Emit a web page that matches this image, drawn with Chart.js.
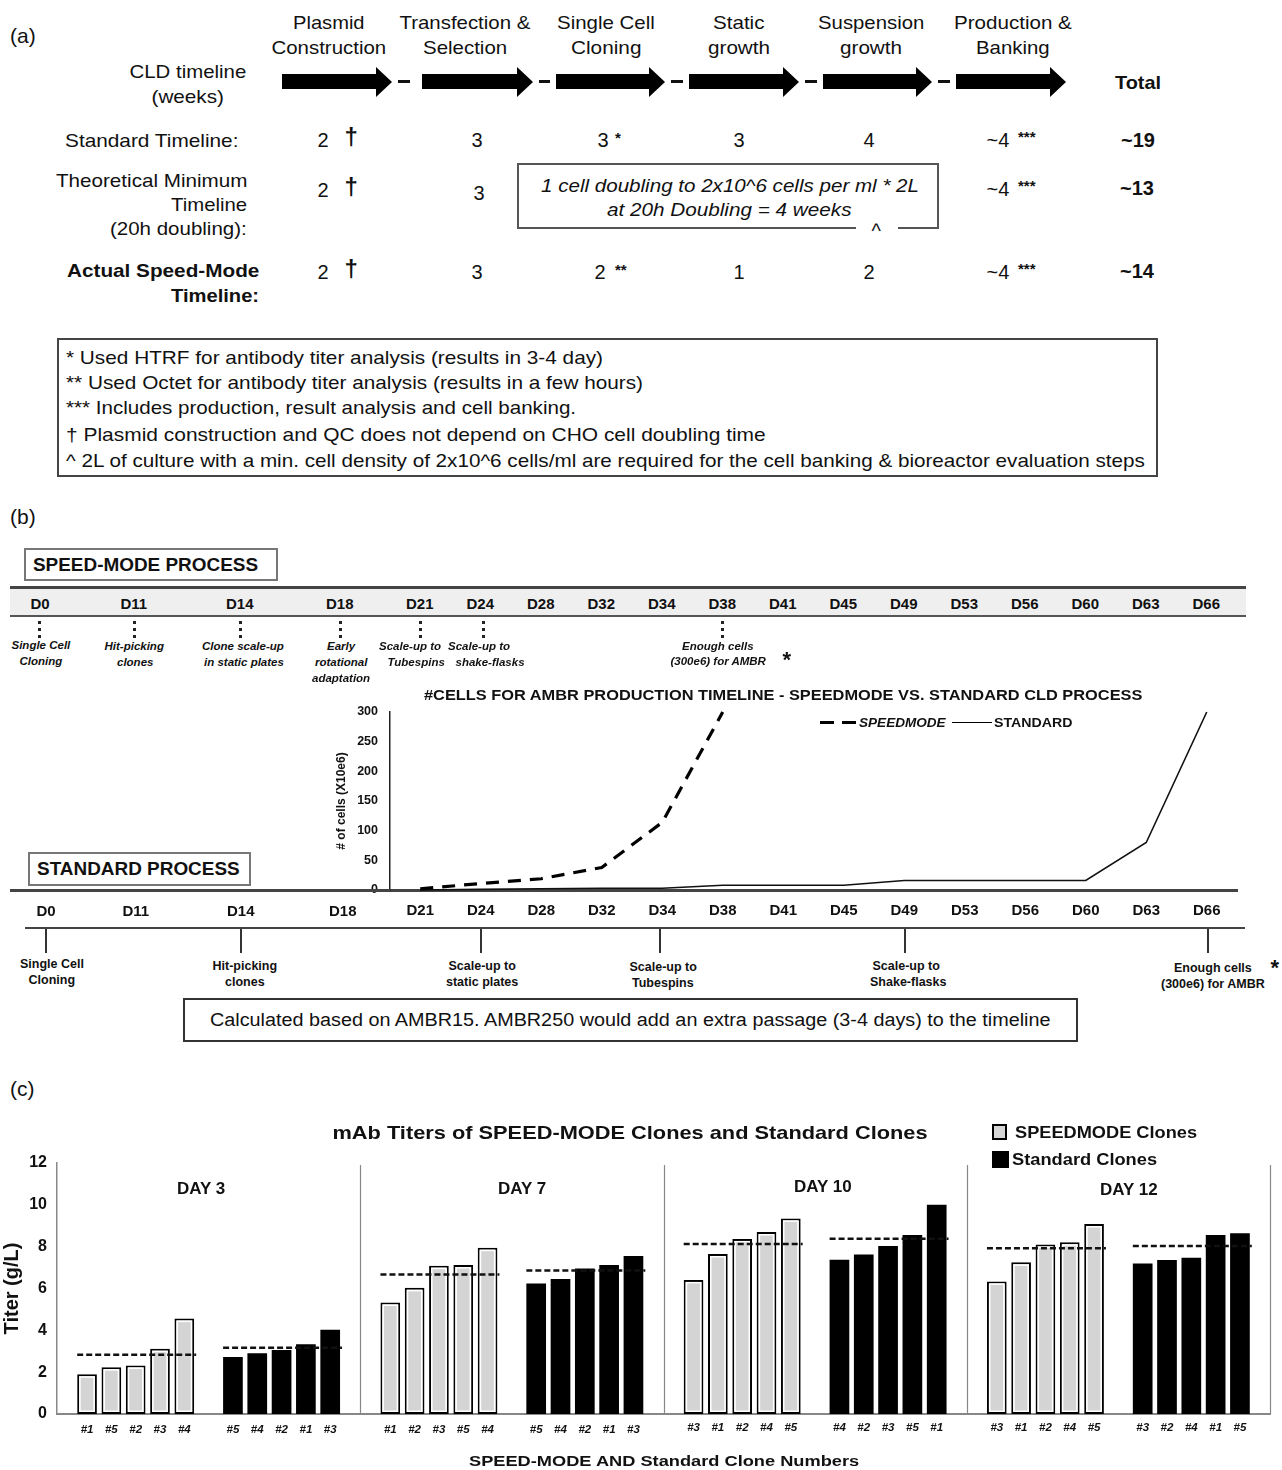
<!DOCTYPE html>
<html><head><meta charset="utf-8">
<script src="https://cdn.jsdelivr.net/npm/chart.js@4.4.0/dist/chart.umd.min.js"></script>
<style>
html,body{margin:0;padding:0;background:#fff;}
#page{position:relative;width:1282px;height:1470px;overflow:hidden;font-family:"Liberation Sans",Arial,sans-serif;color:#111;}
.t{position:absolute;white-space:nowrap;line-height:1;}
.box{position:absolute;border:2px solid #555;box-sizing:border-box;background:transparent;}
.r{position:absolute;}
canvas{position:absolute;}
</style></head><body><div id="page">
<canvas id="lineChart" width="930" height="250" style="left:330px;top:680px;width:930px;height:250px"></canvas>
<canvas id="barChart" width="1282" height="370" style="left:0px;top:1100px;width:1282px;height:370px"></canvas>
</div>
<script>
// ---------------- DATA ----------------
// Panel (b): cells for AMBR production timeline
const lineDays = ['D21','D24','D28','D32','D34','D38','D41','D45','D49','D53','D56','D60','D63','D66'];
const speedCells = [2, 11, 19, 38, 114, 300, null, null, null, null, null, null, null, null];
const standardCells = [0, 1, 2, 3, 3, 8, 8, 8, 16, 16, 16, 16, 80, 300];
const cellTicks = [0, 50, 100, 150, 200, 250, 300];

// Panel (c): mAb titers (g/L)
const dayNames = ['DAY 3', 'DAY 7', 'DAY 10', 'DAY 12'];
const day3Speed = [1.9, 2.24, 2.32, 3.12, 4.56];   const day3SpeedClones = ['#1','#5','#2','#3','#4'];
const day3Std   = [2.72, 2.9, 3.06, 3.34, 4.03];   const day3StdClones   = ['#5','#4','#2','#1','#3'];
const day7Speed = [5.33, 6.03, 7.09, 7.12, 7.95];  const day7SpeedClones = ['#1','#2','#3','#5','#4'];
const day7Std   = [6.24, 6.45, 6.96, 7.12, 7.55];  const day7StdClones   = ['#5','#4','#2','#1','#3'];
const day10Speed = [6.41, 7.65, 8.37, 8.7, 9.35];  const day10SpeedClones = ['#3','#1','#2','#4','#5'];
const day10Std   = [7.38, 7.62, 8.03, 8.56, 10.0]; const day10StdClones   = ['#4','#2','#3','#5','#1'];
const day12Speed = [6.34, 7.25, 8.1, 8.21, 9.08];  const day12SpeedClones = ['#3','#1','#2','#4','#5'];
const day12Std   = [7.19, 7.36, 7.47, 8.56, 8.64]; const day12StdClones   = ['#3','#2','#4','#1','#5'];
const speedMeans = [2.83, 6.67, 8.13, 7.92];
const stdMeans   = [3.17, 6.86, 8.38, 8.03];
const titerTicks = [0, 2, 4, 6, 8, 10, 12];

// ---------------- HELPERS ----------------
const page = document.getElementById('page');
const FONT = '"Liberation Sans", Arial, sans-serif';
function T(text, x, y, o = {}) {
  const el = document.createElement('div');
  el.className = 't';
  el.textContent = text;
  const s = el.style;
  s.fontSize = (o.size || 19) + 'px';
  s.fontWeight = o.bold ? 'bold' : 'normal';
  if (o.italic) s.fontStyle = 'italic';
  if (o.color) s.color = o.color;
  s.left = x + 'px'; s.top = y + 'px';
  page.appendChild(el);
  const w0 = el.offsetWidth;
  const sc = o.w ? o.w / w0 : 1;
  const al = o.align || 'c';
  const dx = al === 'c' ? -w0 * sc / 2 : (al === 'r' ? -w0 * sc : 0);
  s.transformOrigin = '0 50%';
  s.transform = `translate(${dx}px,-50%) scaleX(${sc})`;
  return el;
}
function R(x, y, w, h, css) {
  const el = document.createElement('div');
  el.className = 'r';
  el.style.cssText += `left:${x}px;top:${y}px;width:${w}px;height:${h}px;` + (css || '');
  page.appendChild(el);
  return el;
}
function B(x, y, w, h, css) { const el = R(x, y, w, h, css); el.className = 'box'; return el; }

// ---------------- PANEL (a) ----------------
T('(a)', 10, 35, {size: 21, align: 'l'});
const heads = [
  ['Plasmid', 'Construction', 329, 72, 115],
  ['Transfection &', 'Selection', 465, 131, 84],
  ['Single Cell', 'Cloning', 606, 98, 70],
  ['Static', 'growth', 739, 52, 62],
  ['Suspension', 'growth', 871, 106, 62],
  ['Production &', 'Banking', 1013, 118, 74]
];
heads.forEach(h => { T(h[0], h[2], 22, {w: h[3]}); T(h[1], h[2], 47, {w: h[4]}); });
T('CLD timeline', 188, 71, {w: 117});
T('(weeks)', 188, 96, {w: 73});
// arrows
const svgNS = 'http://www.w3.org/2000/svg';
const svg = document.createElementNS(svgNS, 'svg');
svg.setAttribute('width', 1282); svg.setAttribute('height', 120);
svg.style.cssText = 'position:absolute;left:0;top:0';
[[282, 392], [422, 533], [556, 665], [689, 799], [823, 932], [956, 1066]].forEach(a => {
  const p = document.createElementNS(svgNS, 'polygon');
  const hx = a[1] - 16;
  p.setAttribute('points', `${a[0]},74 ${hx},74 ${hx},67 ${a[1]},82 ${hx},97 ${hx},89 ${a[0]},89`);
  p.setAttribute('fill', '#000');
  svg.appendChild(p);
});
[[398, 410], [539, 550], [671, 683], [805, 817], [938, 950]].forEach(d => {
  const r = document.createElementNS(svgNS, 'rect');
  r.setAttribute('x', d[0]); r.setAttribute('y', 80); r.setAttribute('width', d[1] - d[0]); r.setAttribute('height', 3);
  r.setAttribute('fill', '#111');
  svg.appendChild(r);
});
page.appendChild(svg);
T('Total', 1138, 82, {bold: true, w: 46});

T('Standard Timeline:', 238, 140, {align: 'r', w: 173});
T('Theoretical Minimum', 247, 180, {align: 'r', w: 191});
T('Timeline', 247, 204, {align: 'r', w: 76});
T('(20h doubling):', 247, 228, {align: 'r', w: 137});
T('Actual Speed-Mode', 259, 270, {align: 'r', bold: true, w: 192});
T('Timeline:', 259, 295, {align: 'r', bold: true, w: 88});

function dagger(y) { T('2', 323, y, {size: 20}); T('†', 351, y - 3, {size: 24, bold: true}); }
function stars(x, y, s) { T(s, x, y, {size: 15, bold: true}); }
// standard row
dagger(140); T('3', 477, 140, {size: 20}); T('3', 603, 140, {size: 20}); stars(618, 137, '*');
T('3', 739, 140, {size: 20}); T('4', 869, 140, {size: 20});
T('~4', 998, 140, {size: 20}); stars(1027, 136, '***'); T('~19', 1138, 140, {size: 20, bold: true});
// theoretical row
dagger(190); T('3', 479, 193, {size: 20});
T('~4', 998, 189, {size: 20}); stars(1027, 185, '***'); T('~13', 1137, 188, {size: 20, bold: true});
B(517, 163, 422, 66, 'border-color:#555');
R(856, 225, 42, 6, 'background:#fff');
T('^', 876, 231, {size: 20});
T('1 cell doubling to 2x10^6 cells per ml * 2L', 730, 185, {italic: true, w: 378});
T('at 20h Doubling = 4 weeks', 729, 209, {italic: true, w: 244});
// actual row
dagger(272); T('3', 477, 272, {size: 20}); T('2', 600, 272, {size: 20}); stars(621, 269, '**');
T('1', 739, 272, {size: 20}); T('2', 869, 272, {size: 20});
T('~4', 998, 272, {size: 20}); stars(1027, 268, '***'); T('~14', 1137, 271, {size: 20, bold: true});

// footnotes
B(57, 338, 1101, 139, 'border-color:#444');
[['* Used HTRF for antibody titer analysis (results in 3-4 day)', 357, 537],
 ['** Used Octet for antibody titer analysis (results in a few hours)', 382, 577],
 ['*** Includes production, result analysis and cell banking.', 407, 510],
 ['† Plasmid construction and QC does not depend on CHO cell doubling time', 434, 700],
 ['^ 2L of culture with a min. cell density of 2x10^6 cells/ml are required for the cell banking & bioreactor evaluation steps', 460, 1079]
].forEach(f => T(f[0], 66, f[1], {align: 'l', size: 19, w: f[2]}));

// ---------------- PANEL (b) ----------------
T('(b)', 10, 516, {size: 21, align: 'l'});
B(24, 548, 254, 33, 'border-color:#777');
T('SPEED-MODE PROCESS', 33, 565, {align: 'l', bold: true, size: 18, w: 225});
R(10, 586, 1236, 31, 'background:#efefef;border-top:3px solid #444;border-bottom:2px solid #555;box-sizing:border-box');
const speedRowLeft = [['D0', 40], ['D11', 134], ['D14', 240], ['D18', 340]];
speedRowLeft.forEach(d => T(d[0], d[1], 603, {bold: true, size: 15}));
lineDays.forEach((d, i) => T(d, 420 + i * 60.5, 603, {bold: true, size: 15}));
[39, 134, 240, 340, 420, 483, 722].forEach(x => R(x - 1.5, 621, 3, 17, 'border-left:3px dotted #222;box-sizing:border-box'));
const si = {bold: true, italic: true, size: 11.5};
T('Single Cell', 41, 646, si); T('Cloning', 41, 662, si);
T('Hit-picking', 134, 647, si); T('clones', 135, 663, si);
T('Clone scale-up', 243, 647, si); T('in static plates', 244, 663, si);
T('Early', 341, 647, si); T('rotational', 341, 663, si); T('adaptation', 341, 679, si);
T('Scale-up to', 410, 647, si); T('Tubespins', 416, 663, si);
T('Scale-up to', 479, 647, si); T('shake-flasks', 490, 663, si);
T('Enough cells', 718, 647, si); T('(300e6) for AMBR', 718, 662, si);
T('*', 787, 660, {bold: true, size: 22});

T('#CELLS FOR AMBR PRODUCTION TIMELINE -  SPEEDMODE VS. STANDARD CLD PROCESS', 783, 694, {bold: true, size: 15, w: 718});
// legend for line chart
R(820, 721, 14, 0, 'border-top:3px solid #000');
R(842, 721, 14, 0, 'border-top:3px solid #000');
T('SPEEDMODE', 859, 723, {align: 'l', bold: true, italic: true, size: 12, w: 87});
R(952, 722, 40, 0, 'border-top:1.5px solid #000');
T('STANDARD', 994, 723, {align: 'l', bold: true, size: 12, w: 78});

B(28, 852, 223, 34, 'border-color:#777');
T('STANDARD PROCESS', 37, 869, {align: 'l', bold: true, size: 18, w: 203});
R(10, 889, 380, 3, 'background:#444');
R(25, 927, 1220, 2, 'background:#444');
[['D0', 46], ['D11', 136], ['D14', 241], ['D18', 343]].forEach(d => T(d[0], d[1], 910, {bold: true, size: 15}));
[46, 241, 481, 660, 905, 1208].forEach(x => R(x - 1, 929, 2, 24, 'background:#333'));
const sn = {bold: true, size: 12.5};
T('Single Cell', 52, 964, sn); T('Cloning', 52, 980, sn);
T('Hit-picking', 245, 966, sn); T('clones', 245, 982, sn);
T('Scale-up to', 482, 966, sn); T('static plates', 482, 982, sn);
T('Scale-up to', 663, 967, sn); T('Tubespins', 663, 983, sn);
T('Scale-up to', 906, 966, sn); T('Shake-flasks', 908, 982, sn);
T('Enough cells', 1213, 968, sn); T('(300e6) for AMBR', 1213, 984, sn);
T('*', 1275, 968, {bold: true, size: 22});
B(183, 998, 895, 44, 'border-color:#333');
T('Calculated  based on AMBR15.  AMBR250  would add an extra passage (3-4 days) to the timeline', 630, 1020, {size: 18, w: 840});

// ---------------- PANEL (c) text ----------------
T('(c)', 10, 1088, {size: 21, align: 'l'});
T('mAb Titers of SPEED-MODE Clones and Standard Clones', 630, 1132, {bold: true, size: 19, w: 595});
R(992, 1124, 15, 16, 'background:#d6d6d6;border:2px solid #000;box-sizing:border-box');
T('SPEEDMODE Clones', 1015, 1132, {align: 'l', bold: true, size: 17, w: 182});
R(992, 1151, 17, 17, 'background:#000');
T('Standard Clones', 1012, 1159, {align: 'l', bold: true, size: 17, w: 145});
[['DAY 3', 201, 1188], ['DAY 7', 522, 1188], ['DAY 10', 823, 1186], ['DAY 12', 1129, 1189]].forEach(d => T(d[0], d[1], d[2], {bold: true, size: 17}));
T('SPEED-MODE AND Standard Clone Numbers', 664, 1460, {bold: true, size: 15, w: 390});

// ---------------- CHARTS ----------------
Chart.defaults.font.family = FONT;
Chart.defaults.color = '#111';

new Chart(document.getElementById('lineChart'), {
  type: 'line',
  data: {
    labels: lineDays,
    datasets: [
      {label: 'SPEEDMODE', data: speedCells, borderColor: '#000', borderWidth: 3.2, borderDash: [13, 9], pointRadius: 0, tension: 0, clip: false, spanGaps: false},
      {label: 'STANDARD', data: standardCells, borderColor: '#111', borderWidth: 1.6, pointRadius: 0, tension: 0, clip: false}
    ]
  },
  options: {
    responsive: false, animation: false, devicePixelRatio: 1,
    layout: {padding: {left: 0, right: 23, top: 32, bottom: 0}},
    plugins: {legend: {display: false}, tooltip: {enabled: false}},
    scales: {
      x: {type: 'category', offset: true,
          grid: {display: false, drawTicks: false},
          border: {color: '#444', width: 3},
          ticks: {font: {size: 15, weight: 'bold'}, color: '#111', padding: 12, maxRotation: 0, autoSkip: false},
          afterFit(s) { s.height = 40; }},
      y: {min: 0, max: 300,
          afterBuildTicks(s) { s.ticks = cellTicks.map(v => ({value: v})); },
          grid: {display: false, drawTicks: false},
          border: {color: '#222', width: 1.5},
          ticks: {font: {size: 12.5, weight: 'bold'}, color: '#111', padding: 12},
          title: {display: true, text: '# of cells (X10e6)', font: {size: 12, weight: 'bold'}, color: '#111', padding: {top: 4, bottom: 0}},
          afterFit(s) { s.width = 60; }}
    }
  }
});

// Bar chart: one category per day; 5 SPEEDMODE ranks, a spacer, 5 Standard ranks
const speedByDay = [day3Speed, day7Speed, day10Speed, day12Speed];
const stdByDay = [day3Std, day7Std, day10Std, day12Std];
const speedClonesByDay = [day3SpeedClones, day7SpeedClones, day10SpeedClones, day12SpeedClones];
const stdClonesByDay = [day3StdClones, day7StdClones, day10StdClones, day12StdClones];

const barDatasets = [];
[0, 1, 2, 3, 4].forEach(p => barDatasets.push({
  label: 'SPEEDMODE Clones', kind: 'speed', rank: p,
  data: speedByDay.map(d => d[p]),
  backgroundColor: '#d4d4d4', borderColor: '#000', borderWidth: 2, borderSkipped: false
}));
barDatasets.push({label: 'spacer', kind: 'gap', data: dayNames.map(() => null)});
[0, 1, 2, 3, 4].forEach(p => barDatasets.push({
  label: 'Standard Clones', kind: 'std', rank: p,
  data: stdByDay.map(d => d[p]),
  backgroundColor: '#000', borderWidth: 0
}));

const barDecor = {
  id: 'barDecor',
  afterDatasetsDraw(chart) {
    const {ctx, scales: {x, y}, chartArea: a} = chart;
    const ds = chart.data.datasets;
    ctx.save();
    // inner white ring on SPEEDMODE bars
    ds.forEach((d, di) => {
      if (d.kind !== 'speed') return;
      chart.getDatasetMeta(di).data.forEach(bar => {
        const w = bar.width, l = bar.x - w / 2, t = bar.y, b = bar.base;
        ctx.strokeStyle = '#fff'; ctx.lineWidth = 1.5;
        ctx.strokeRect(l + 2.75, t + 2.75, w - 5.5, b - t - 5.5);
      });
    });
    // mean dashed lines
    ctx.setLineDash([6, 3]); ctx.strokeStyle = '#111'; ctx.lineWidth = 2.5;
    const drawMean = (firstIdx, lastIdx, means) => {
      means.forEach((m, i) => {
        const f = chart.getDatasetMeta(firstIdx).data[i], l = chart.getDatasetMeta(lastIdx).data[i];
        const yy = y.getPixelForValue(m);
        ctx.beginPath(); ctx.moveTo(f.x - f.width / 2, yy); ctx.lineTo(l.x + l.width / 2 + 2, yy); ctx.stroke();
      });
    };
    drawMean(0, 4, speedMeans);
    drawMean(6, 10, stdMeans);
    ctx.setLineDash([]);
    // day separators
    ctx.strokeStyle = '#888'; ctx.lineWidth = 1.2;
    [0.5, 1.5, 2.5, 3.5].forEach(v => {
      const px = Math.round(x.getPixelForValue(v)) + 0.5;
      ctx.beginPath(); ctx.moveTo(px, a.top + 2); ctx.lineTo(px, a.bottom); ctx.stroke();
    });
    // clone number labels
    ctx.fillStyle = '#111'; ctx.font = 'bold italic 11.5px ' + FONT;
    ctx.textAlign = 'center'; ctx.textBaseline = 'middle';
    ds.forEach((d, di) => {
      if (d.kind === 'gap') return;
      const names = d.kind === 'speed' ? speedClonesByDay : stdClonesByDay;
      chart.getDatasetMeta(di).data.forEach((bar, i) => {
        ctx.fillText(names[i][d.rank], bar.x, a.bottom + 16 - (i >= 2 ? 2 : 0));
      });
    });
    ctx.restore();
  }
};

new Chart(document.getElementById('barChart'), {
  type: 'bar',
  data: {labels: dayNames, datasets: barDatasets},
  options: {
    responsive: false, animation: false, devicePixelRatio: 1,
    layout: {padding: {left: 0, right: 12, top: 63, bottom: 0}},
    datasets: {bar: {categoryPercentage: 0.882, barPercentage: 0.81}},
    plugins: {legend: {display: false}, tooltip: {enabled: false}},
    scales: {
      x: {type: 'category', offset: true,
          grid: {display: false, drawTicks: false},
          border: {color: '#888', width: 2},
          ticks: {display: false},
          afterFit(s) { s.height = 56; }},
      y: {min: 0, max: 12,
          afterBuildTicks(s) { s.ticks = titerTicks.map(v => ({value: v})); },
          grid: {display: false, drawTicks: false},
          border: {color: '#888', width: 1.5},
          ticks: {font: {size: 16, weight: 'bold'}, color: '#111', padding: 10},
          title: {display: true, text: 'Titer (g/L)', font: {size: 20, weight: 'bold'}, color: '#111', padding: {top: 0, bottom: 0}},
          afterFit(s) { s.width = 57; }}
    }
  },
  plugins: [barDecor]
});
</script>
</body></html>
